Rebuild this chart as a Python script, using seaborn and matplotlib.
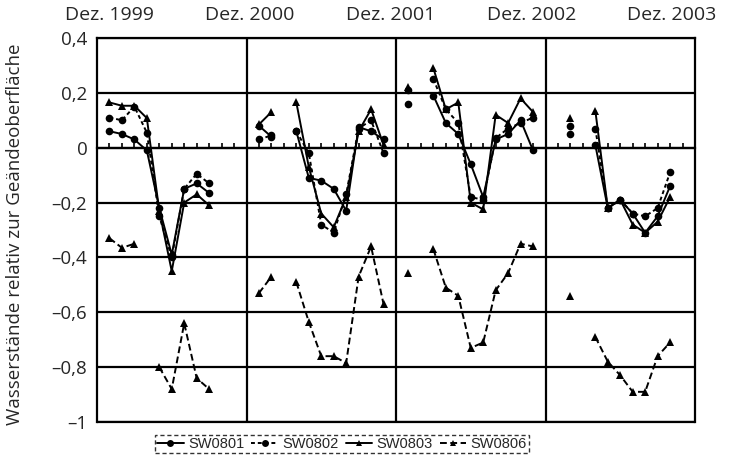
import numpy as np
import pandas as pd
import matplotlib
matplotlib.use("Agg")
import matplotlib.pyplot as plt
from matplotlib.lines import Line2D
import seaborn as sns

N = None
months = list(range(1, 47))
sw0801 = [0.06, 0.05, 0.03, -0.01, -0.22, -0.39, -0.15, -0.13, -0.165, N, N, N,
          0.08, 0.04, N, 0.06, -0.11, -0.12, -0.15, -0.23, 0.075, 0.06, 0.03, N,
          0.16, N, 0.19, 0.09, 0.05, -0.06, -0.18, 0.03, 0.05, 0.10, -0.01, N,
          N, 0.05, N, 0.01, -0.22, -0.19, -0.24, -0.31, -0.25, -0.14]
sw0802 = [0.11, 0.10, 0.15, 0.055, -0.25, -0.40, -0.15, -0.095, -0.13, N, N, N,
          0.03, 0.045, N, 0.06, -0.02, -0.28, -0.31, -0.17, 0.07, 0.10, -0.02, N,
          0.21, N, 0.25, 0.14, 0.09, -0.18, -0.19, 0.035, 0.07, 0.09, 0.11, N,
          N, 0.08, N, 0.07, -0.22, -0.19, -0.24, -0.25, -0.22, -0.09]
sw0803 = [0.165, 0.153, 0.153, 0.108, -0.23, -0.45, -0.20, -0.17, -0.21, N, N, N,
          0.085, 0.13, N, 0.165, -0.07, -0.24, -0.29, -0.18, 0.06, 0.14, 0.01, N,
          0.22, N, 0.29, 0.14, 0.165, -0.20, -0.225, 0.12, 0.09, 0.18, 0.13, N,
          N, 0.11, N, 0.135, -0.22, -0.19, -0.28, -0.31, -0.27, -0.18]
sw0806 = [-0.33, -0.365, -0.35, N, -0.80, -0.88, -0.64, -0.84, -0.88, N, N, N,
          -0.53, -0.47, N, -0.49, -0.635, -0.76, -0.76, -0.785, -0.47, -0.36, -0.57, N,
          -0.457, N, -0.37, -0.51, -0.54, -0.73, -0.71, -0.52, -0.457, -0.35, -0.36, N,
          N, -0.54, N, -0.69, -0.78, -0.83, -0.89, -0.89, -0.76, -0.71]
series_names = ["SW0801", "SW0802", "SW0803", "SW0806"]
year_labels = ["Dez. 1999", "Dez. 2000", "Dez. 2001", "Dez. 2002", "Dez. 2003"]
y_ticks = [-1.0, -0.8, -0.6, -0.4, -0.2, 0.0, 0.2, 0.4]
y_tick_labels = ["\u20131", "\u20130,8", "\u20130,6", "\u20130,4", "\u20130,2", "0", "0,2", "0,4"]

sns.set_theme(style="white")
plt.rcParams["font.family"] = ["Open Sans", "DejaVu Sans"]

fig = plt.figure(figsize=(7.36, 4.61), dpi=100)
ax = fig.add_axes([97/736, 1-422/461, (695-97)/736, (422-38)/461])

styles = {
    "SW0801": dict(marker="o", linestyle="-", ms=5.5),
    "SW0802": dict(marker="o", linestyle=(0, (2, 1.5)), ms=5.5),
    "SW0803": dict(marker="^", linestyle="-", ms=6),
    "SW0806": dict(marker="^", linestyle=(0, (3.5, 1.8)), ms=5.5),
}

for name, vals in zip(series_names, [sw0801, sw0802, sw0803, sw0806]):
    v = np.array([np.nan if x is None else x for x in vals], dtype=float)
    seg = np.cumsum(np.isnan(v))
    df = pd.DataFrame({"m": months, "v": v, "seg": seg}).dropna()
    st = styles[name]
    sns.lineplot(data=df, x="m", y="v", units="seg", estimator=None, ax=ax,
                 color="black", linewidth=1.4, marker=st["marker"],
                 markersize=st["ms"], markeredgewidth=0, linestyle=st["linestyle"],
                 legend=False, sort=False)

ax.set_xlim(0, 48)
ax.set_ylim(-1.0, 0.4)
ax.set_yticks(y_ticks)
ax.set_yticklabels(y_tick_labels, fontsize=13.5)
ax.tick_params(axis="y", length=0, pad=7)
ax.set_xlabel("")
ax.set_ylabel("Wasserst\u00e4nde relativ zur Ge\u00e4ndeoberfl\u00e4che", fontsize=13.5)
ax.yaxis.set_label_coords((24-97)/598, 0.49)

for yv in y_ticks:
    ax.axhline(yv, color="black", lw=1.6, zorder=0.5)
for xv in [12, 24, 36]:
    ax.axvline(xv, color="black", lw=1.6, zorder=0.5)

ax.spines["bottom"].set_position(("data", 0))
for s in ax.spines.values():
    s.set_color("black")
    s.set_linewidth(1.6)
ax.set_xticks([12, 24, 36, 48])
ax.set_xticks(range(1, 48), minor=True)
ax.tick_params(axis="x", which="both", direction="in", length=3.5, width=1.2,
               color="black", labelbottom=False, bottom=True)
ax.tick_params(axis="x", which="major", length=0)

# extra bottom border line at -1
ax.plot([0, 48], [-1.0, -1.0], color="black", lw=1.6, clip_on=False)

xs = np.linspace(109, 672, len(year_labels))
for x, lab in zip(xs, year_labels):
    fig.text(x/736, 1-15/461, lab, ha="center", va="center", fontsize=14)

handles = [Line2D([], [], color="black", lw=1.4, marker=styles[n]["marker"],
                  markersize=5, markeredgewidth=0, linestyle=styles[n]["linestyle"])
           for n in series_names]
leg = fig.legend(handles, series_names, loc="center", bbox_to_anchor=(342/736, 1-444/461),
                 ncol=4, frameon=True, fancybox=False, edgecolor="black",
                 handlelength=1.8, handletextpad=0.3, columnspacing=0.5,
                 borderpad=0.15, borderaxespad=0,
                 prop={"family": "Liberation Sans", "size": 10.5})
leg.get_frame().set_linestyle((0, (3, 2)))
leg.get_frame().set_linewidth(1.0)

fig.savefig("out.png", dpi=100)
